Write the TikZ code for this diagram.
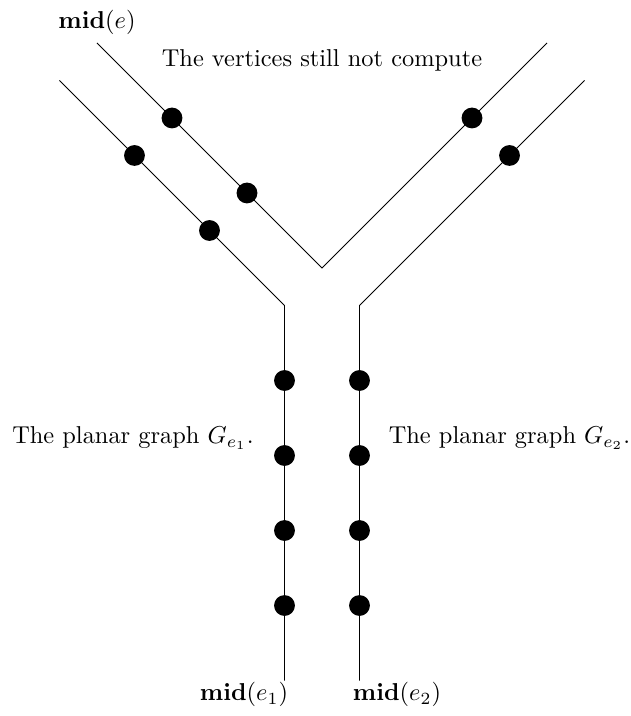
\documentclass[tikz,border=0pt]{standalone}
\usepackage{amsmath,amssymb}
\usetikzlibrary{positioning}

\begin{document}
\begin{tikzpicture}[x=1.08cm, y=1.08cm,
  vert/.style={circle, fill=black, inner sep=0pt, minimum size=0.3cm},
  strip/.style={draw, line width=0.4pt},
  ]
  \useasboundingbox (-4.293,-5.973) rectangle (4.107,3.573);

  % ends and corners of the two strips
  \coordinate (inL) at (-3,3);
  \coordinate (inR) at (3,3);
  \coordinate (tip) at (0,0);
  \coordinate (outL) at (-3.5,2.5);
  \coordinate (outR) at (3.5,2.5);
  \coordinate (kneeL) at (-0.5,-0.5);
  \coordinate (kneeR) at (0.5,-0.5);
  \coordinate (footL) at (-0.5,-5.5);
  \coordinate (footR) at (0.5,-5.5);

  \draw[strip] (inL) -- (tip) -- (inR);
  \draw[strip] (outL) -- (kneeL) -- (footL);
  \draw[strip] (outR) -- (kneeR) -- (footR);

  \node[vert] (u1) at (-2,2) {};
  \node[vert] (u2) at (-1,1) {};
  \node[vert] (w1) at (-2.5,1.5) {};
  \node[vert] (w2) at (-1.5,0.5) {};
  \node[vert] (u3) at (2,2) {};
  \node[vert] (w3) at (2.5,1.5) {};
  \foreach \y [count=\i] in {-1.5,-2.5,-3.5,-4.5} {
    \node[vert] (l\i) at (-0.5,\y) {};
    \node[vert] (r\i) at (0.5,\y) {};
  }

  \node[above] (midE) at (inL) {$\mathbf{mid}(e)$};
  \node (todo) at (0,2.77) {The vertices still not compute};
  \node (graphL) at (-2.52,-2.27) {The planar graph $G_{e_1}$.};
  \node (graphR) at (2.5,-2.27) {The planar graph $G_{e_2}$.};
  \node (midL) at (-1.04,-5.69) {$\mathbf{mid}(e_1)$};
  \node (midR) at (1,-5.69) {$\mathbf{mid}(e_2)$};
\end{tikzpicture}
\end{document}
